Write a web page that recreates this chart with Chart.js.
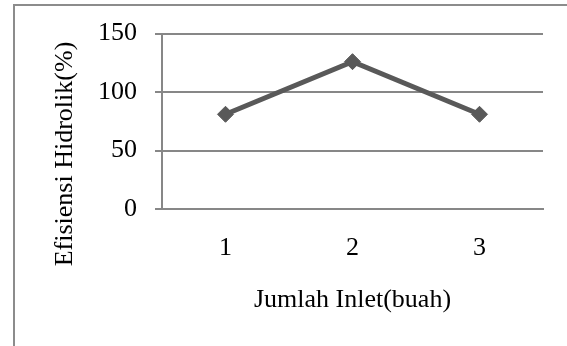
<!DOCTYPE html>
<html lang="id">
<head>
  <meta charset="UTF-8" />
  <title>Efisiensi Hidrolik vs Jumlah Inlet</title>
  <script src="https://cdn.jsdelivr.net/npm/chart.js"></script>
  <style>
    * { margin: 0; padding: 0; box-sizing: border-box; }
    html, body { width: 567px; height: 346px; background: #fff; overflow: hidden; }
    /* outer chart frame, only left and top edges are visible in the crop */
    .frame {
      position: absolute;
      left: 13px;
      top: 4px;
      width: 600px;
      height: 400px;
      border: 2px solid #8c8c8c;
    }
    #chart { position: absolute; left: 0; top: 0; }
  </style>
</head>
<body>
  <div class="frame"></div>
  <canvas id="chart" width="567" height="346"></canvas>

  <script>
    // data
    const inletLabels = ['1', '2', '3'];
    const efisiensi = [81, 126, 81];
    const yTicks = [0, 50, 100, 150];

    const xTitle = 'Jumlah Inlet(buah)';
    const yTitle = 'Efisiensi Hidrolik(%)';

    const serif = "'Liberation Serif', 'Times New Roman', serif";
    const gridGray = '#878787';
    const lineGray = '#595959';

    // y axis title sits lower than the plot centre in the original, so draw it by hand
    const yTitlePlugin = {
      id: 'yTitle',
      afterDraw(chart) {
        const ctx = chart.ctx;
        ctx.save();
        ctx.translate(65, 154);
        ctx.rotate(-Math.PI / 2);
        ctx.font = '26px ' + serif;
        ctx.fillStyle = '#000';
        ctx.textAlign = 'center';
        ctx.textBaseline = 'middle';
        ctx.fillText(yTitle, 0, 0);
        ctx.restore();
      }
    };

    new Chart(document.getElementById('chart'), {
      type: 'line',
      data: {
        labels: inletLabels,
        datasets: [{
          data: efisiensi,
          borderColor: lineGray,
          backgroundColor: lineGray,
          borderWidth: 5,
          pointStyle: 'rectRot',
          pointRadius: 8,
          pointBorderWidth: 1,
          pointBackgroundColor: lineGray,
          pointBorderColor: lineGray,
          tension: 0
        }]
      },
      options: {
        responsive: false,
        animation: false,
        layout: { padding: { top: 33, right: 24, left: 0, bottom: 0 } },
        plugins: {
          legend: { display: false },
          tooltip: { enabled: false }
        },
        scales: {
          x: {
            offset: true,
            grid: { display: false, drawTicks: false },
            border: { color: gridGray, width: 2 },
            ticks: {
              color: '#000',
              font: { family: serif, size: 26 },
              padding: 24
            },
            title: {
              display: true,
              text: xTitle,
              color: '#000',
              font: { family: serif, size: 26 },
              padding: { top: 0, bottom: 30 }
            },
            afterFit(scale) { scale.height = 137; }
          },
          y: {
            min: 0,
            max: 150,
            afterBuildTicks(scale) { scale.ticks = yTicks.map(v => ({ value: v })); },
            grid: { color: gridGray, lineWidth: 2, tickLength: 7, tickColor: gridGray },
            border: { color: gridGray, width: 2 },
            ticks: {
              color: '#000',
              font: { family: serif, size: 26 },
              padding: 18
            },
            afterFit(scale) { scale.width = 162; }
          }
        }
      },
      plugins: [yTitlePlugin]
    });
  </script>
</body>
</html>
